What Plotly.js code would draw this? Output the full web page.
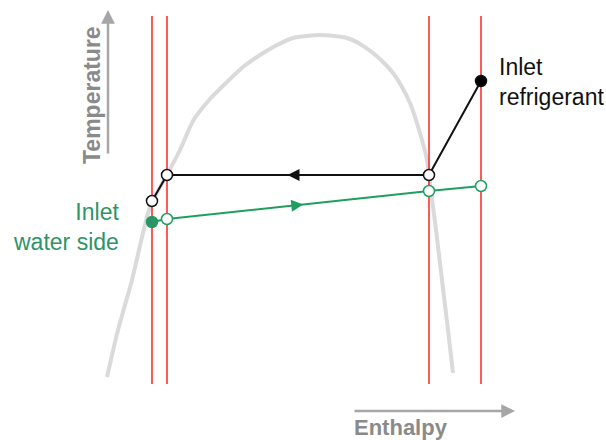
<!DOCTYPE html>
<html>
<head>
<meta charset="utf-8">
<script src="https://cdn.plot.ly/plotly-3.0.1.min.js"></script>
<style>html,body{margin:0;padding:0;background:#fff}#chart{width:606px;height:440px}</style>
</head>
<body>
<div id="chart"></div>
<script>
// Saturation dome (enthalpy h, temperature T), arbitrary units
const domeH = [107, 118, 132, 150, 168, 180, 193, 210, 227, 243, 260, 277, 293, 307, 320, 334, 347, 360, 373, 383, 393, 402, 410, 420, 427, 430, 436, 442, 448, 453];
const domeT = [63, 110, 160, 233, 267, 290, 319, 341, 358, 373, 385, 395, 402, 404, 405, 404, 402, 396, 387, 378, 367, 353, 337, 307, 280, 257, 210, 160, 110, 67];

// Enthalpy positions of the four state lines
const stateH = [152, 167, 429, 481];
const stateTmin = 56, stateTmax = 424;

// Refrigerant path: inlet (superheated) -> condensing -> subcooled outlet
const refH = [481, 429, 167, 152];
const refT = [359, 265, 265, 239];

// Water side path: inlet -> outlet
const watH = [152, 167, 429, 481];
const watT = [218, 221, 249, 254];

const green = '#1f9e5f';
const greenText = '#2e9467';
const traces = [];

traces.push({x: domeH, y: domeT, mode: 'lines', line: {color: '#dadada', width: 4, shape: 'spline', smoothing: 0.6}, hoverinfo: 'skip'});

stateH.forEach(h => traces.push({x: [h, h], y: [stateTmin, stateTmax], mode: 'lines', line: {color: '#ff0000', width: 1.3}, hoverinfo: 'skip'}));

traces.push({x: refH, y: refT, mode: 'lines+markers', line: {color: '#111', width: 2},
  marker: {size: 11, color: ['#000', '#fff', '#fff', '#fff'], line: {color: '#111', width: 1.5}}});
traces.push({x: watH, y: watT, mode: 'lines+markers', line: {color: green, width: 2},
  marker: {size: 11, color: [greenText, '#fff', '#fff', '#fff'], line: {color: green, width: 1.5}}});

// Flow direction arrowheads at the middle of the long segments
function flowArrow(x0, y0, x1, y1, f, color) {
  const tx = x0 + (x1 - x0) * f, ty = y0 + (y1 - y0) * f;
  const bx = x0 + (x1 - x0) * (f - 0.03), by = y0 + (y1 - y0) * (f - 0.03);
  return {x: tx, y: ty, ax: bx, ay: by, xref: 'x', yref: 'y', axref: 'x', ayref: 'y',
    showarrow: true, arrowhead: 2, arrowsize: 1.2, arrowwidth: 2, arrowcolor: color, text: ''};
}

const axisGray = '#a6a6a6', labelGray = '#8a8a8a';
const font = 'Liberation Sans, Arial, sans-serif';
const annotations = [
  flowArrow(refH[1], refT[1], refH[2], refT[2], 0.54, '#111'),
  flowArrow(watH[1], watT[1], watH[2], watT[2], 0.52, green),
  // temperature axis arrow
  {x: 108, y: 430, ax: 108, ay: 285, xref: 'x', yref: 'y', axref: 'x', ayref: 'y', showarrow: true,
    arrowhead: 2, arrowsize: 1.1, arrowwidth: 2.5, arrowcolor: axisGray, text: ''},
  // enthalpy axis arrow
  {x: 515, y: 29, ax: 353, ay: 29, xref: 'x', yref: 'y', axref: 'x', ayref: 'y', showarrow: true,
    arrowhead: 2, arrowsize: 1.1, arrowwidth: 2.5, arrowcolor: axisGray, text: ''},
  {x: 92, y: 345, xref: 'x', yref: 'y', text: '<b>Temperature</b>', textangle: -90, showarrow: false,
    font: {family: font, size: 23, color: labelGray}},
  {x: 401, y: 13, xref: 'x', yref: 'y', text: '<b>Enthalpy</b>', showarrow: false,
    font: {family: font, size: 22, color: labelGray}},
  {x: 497, y: 358, xref: 'x', yref: 'y', xanchor: 'left', align: 'left', text: 'Inlet<br>refrigerant', showarrow: false,
    font: {family: font, size: 23, color: '#111'}},
  {x: 121, y: 213, xref: 'x', yref: 'y', xanchor: 'right', align: 'right', text: 'Inlet<br>water side', showarrow: false,
    font: {family: font, size: 23, color: greenText}}
];

const layout = {
  width: 606, height: 440, margin: {l: 0, r: 0, t: 0, b: 0},
  paper_bgcolor: '#fff', plot_bgcolor: '#fff', showlegend: false,
  xaxis: {range: [0, 606], visible: false, fixedrange: true},
  yaxis: {range: [0, 440], visible: false, fixedrange: true},
  annotations: annotations
};

Plotly.newPlot('chart', traces, layout, {staticPlot: true});
</script>
</body>
</html>
